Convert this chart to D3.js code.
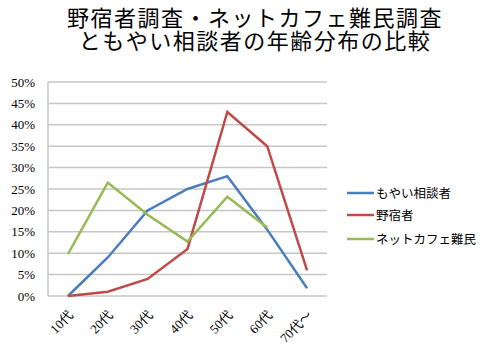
<!DOCTYPE html>
<html><head><meta charset="utf-8">
<script src="https://cdn.jsdelivr.net/npm/d3@7"></script>
<style>body{margin:0;background:#fff;}</style>
</head><body>
<script>
const categories = ["10代","20代","30代","40代","50代","60代","70代～"];
const moyai = [0, 9, 20, 25, 28, 15.5, 1.8];
const nojuku = [0, 1, 4, 11, 43, 35, 6];
const netcafe = [9.8, 26.5, 19, 12.7, 23.2, 16, null];
const yTicks = [0,5,10,15,20,25,30,35,40,45,50];
const seriesNames = ["もやい相談者","野宿者","ネットカフェ難民"];
const colors = ["#4A7EBB","#BE4B48","#98B954"];
const titleLines = ["野宿者調査・ネットカフェ難民調査","ともやい相談者の年齢分布の比較"];

const W=494,H=356;
const svg=d3.select("body").append("svg").attr("width",W).attr("height",H);
const serif="'Liberation Serif','DejaVu Serif','Noto Sans CJK JP',serif";
const m={l:48,r:327,t:82,b:296};
const x=d3.scaleBand().domain(categories).range([m.l,m.r]);
const y=d3.scaleLinear().domain([0,50]).range([m.b,m.t]);

// title (one text element, two tspans)
const t=svg.append("text").attr("text-anchor","middle")
 .attr("font-family","'Noto Sans CJK JP',sans-serif").attr("font-size",22).attr("letter-spacing",1.5).attr("fill","#000");
t.selectAll("tspan").data(titleLines).enter().append("tspan")
 .attr("x",255).attr("y",(d,i)=>26+i*23).text(d=>d);

// grid
svg.append("g").selectAll("line").data(yTicks).enter().append("line")
 .attr("x1",m.l).attr("x2",m.r).attr("y1",d=>y(d)).attr("y2",d=>y(d))
 .attr("stroke","#c6c6c6").attr("stroke-width",1.5);
// left axis
svg.append("line").attr("x1",m.l).attr("x2",m.l).attr("y1",m.t).attr("y2",m.b).attr("stroke","#c6c6c6").attr("stroke-width",1.5);

// y labels
svg.append("g").selectAll("text").data(yTicks).enter().append("text")
 .attr("x",35).attr("y",d=>y(d)+4.5).attr("text-anchor","end")
 .attr("font-family",serif).attr("font-size",13).attr("fill","#000").text(d=>d+"%");

// x labels
svg.append("g").selectAll("text").data(categories).enter().append("text")
 .attr("transform",d=>`translate(${x(d)+x.bandwidth()/2+6},${m.b+20}) rotate(-45)`)
 .attr("text-anchor","end").attr("font-family",serif).attr("font-size",13).attr("fill","#000").text(d=>d);

// lines
const all=[moyai,nojuku,netcafe];
const line=d3.line().defined(d=>d.v!=null).x(d=>x(d.c)+x.bandwidth()/2).y(d=>y(d.v));
all.forEach((s,i)=>{
 svg.append("path").datum(categories.map((c,j)=>({c,v:s[j]})))
  .attr("d",line).attr("fill","none").attr("stroke",colors[i]).attr("stroke-width",2.5).attr("stroke-linejoin","miter");
});

// legend
const lg=svg.append("g");
seriesNames.forEach((n,i)=>{
 const ly=[193,215,239][i];
 lg.append("line").attr("x1",347).attr("x2",374).attr("y1",ly).attr("y2",ly).attr("stroke",colors[i]).attr("stroke-width",2.5);
 lg.append("text").attr("x",376).attr("y",ly+4.5).attr("font-family","'Noto Sans CJK JP',sans-serif").attr("font-size",12.5).attr("fill","#000").text(n);
});
</script>
</body></html>
